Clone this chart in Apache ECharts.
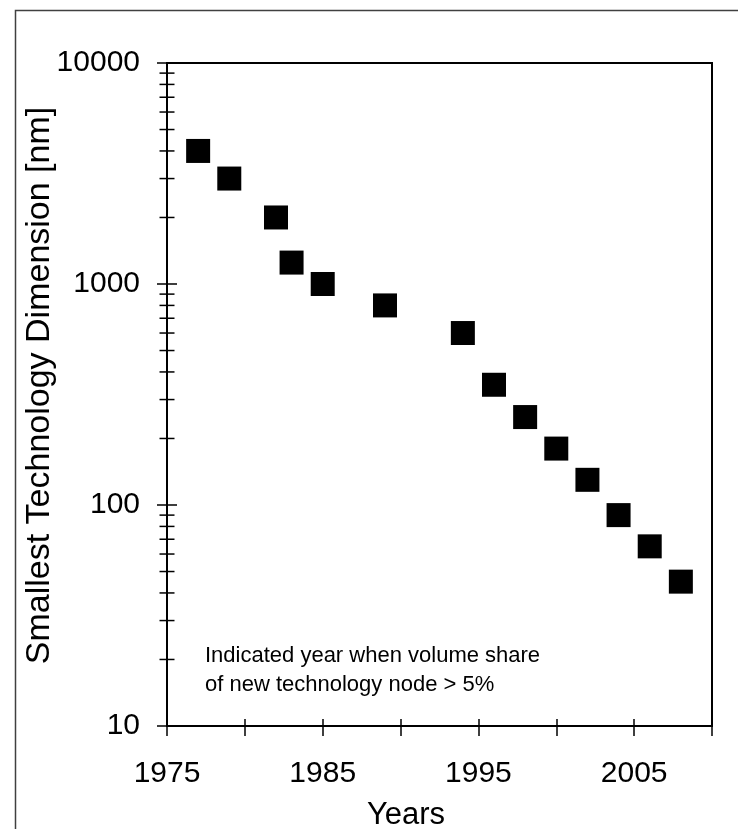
<!DOCTYPE html>
<html>
<head>
<meta charset="utf-8">
<script src="https://cdn.jsdelivr.net/npm/echarts@6/dist/echarts.min.js"></script>
<style>html,body{margin:0;padding:0;background:#fff;}#c{width:738px;height:829px;}</style>
</head>
<body>
<div id="c"></div>
<script>
// ---- data ----
var years = [1977, 1979, 1982, 1983, 1985, 1989, 1994, 1996, 1998, 2000, 2002, 2004, 2006, 2008];
var dimensionNm = [4000, 3000, 2000, 1250, 1000, 800, 600, 350, 250, 180, 130, 90, 65, 45];
var yTickLabels = ['10', '100', '1000', '10000'];
var xTickLabels = ['1975', '1985', '1995', '2005'];
var minorTickValues = [20,30,40,50,60,70,80,90,200,300,400,500,600,700,800,900,2000,3000,4000,5000,6000,7000,8000,9000];

var FONT = "'Liberation Sans', Arial, sans-serif";
var points = years.map(function (y, i) { return [y, dimensionNm[i]]; });
var minorTicks = minorTickValues.map(function (v) { return [1975, v]; });

var chart = echarts.init(document.getElementById('c'));
chart.setOption({
  animation: false,
  backgroundColor: '#fff',
  grid: { left: 167, top: 63, right: 26, bottom: 103, show: true, borderColor: '#000', borderWidth: 2, backgroundColor: 'transparent', outerBoundsMode: 'none', containLabel: false },
  xAxis: [{
    type: 'value', min: 1975, max: 2010, interval: 5, position: 'bottom',
    axisLine: { show: true, lineStyle: { color: '#000', width: 2 } },
    axisTick: { show: true, inside: true, length: 7, lineStyle: { color: '#000', width: 1.5 } },
    axisLabel: {
      margin: 33, color: '#000', fontSize: 30, fontFamily: FONT,
      formatter: function (v) { return xTickLabels.indexOf(String(v)) >= 0 ? String(v) : ''; }
    },
    splitLine: { show: false },
    name: 'Years', nameLocation: 'middle', nameGap: 74,
    nameTextStyle: { color: '#000', fontSize: 31, fontFamily: FONT, padding: [0, 67, 0, 0] }
  }, {
    type: 'value', min: 1975, max: 2010, interval: 5, position: 'bottom',
    axisLine: { show: false },
    axisTick: { show: true, inside: false, length: 10, lineStyle: { color: '#000', width: 1.5 } },
    axisLabel: { show: false }, splitLine: { show: false }
  }],
  yAxis: [{
    type: 'log', logBase: 10, min: 10, max: 10000, position: 'left',
    axisLine: { show: true, lineStyle: { color: '#000', width: 2 } },
    axisTick: { show: true, inside: true, length: 10, lineStyle: { color: '#000', width: 1.5 } },
    axisLabel: {
      margin: 27, color: '#000', fontSize: 30, fontFamily: FONT,
      formatter: function (v) { var s = String(Math.round(v)); return yTickLabels.indexOf(s) >= 0 ? s : ''; }
    },
    splitLine: { show: false },
    name: 'Smallest Technology Dimension [nm]', nameLocation: 'middle', nameGap: 110, nameRotate: 90,
    nameMoveOverlap: false,
    nameTextStyle: { color: '#000', fontSize: 34, fontFamily: FONT, padding: [0, 0, 0, 18] }
  }, {
    type: 'log', logBase: 10, min: 10, max: 10000, position: 'left',
    axisLine: { show: false },
    axisTick: { show: true, inside: false, length: 10, lineStyle: { color: '#000', width: 1.5 } },
    axisLabel: { show: false }, splitLine: { show: false }
  }],
  series: [{
    name: 'minor ticks', type: 'scatter', xAxisIndex: 0, yAxisIndex: 0,
    data: minorTicks, symbol: 'rect', symbolSize: [15, 1.5], clip: false, silent: true,
    itemStyle: { color: '#000', opacity: 1 }, z: 3
  }, {
    name: 'nodes', type: 'scatter', xAxisIndex: 0, yAxisIndex: 0,
    data: points, symbol: 'rect', symbolSize: 24,
    itemStyle: { color: '#000', opacity: 1 }, z: 4
  }],
  graphic: [{
    type: 'rect', left: 13, top: 8, z: -1, silent: true,
    shape: { width: 760, height: 850 },
    style: { fill: 'none', stroke: '#404040', lineWidth: 1.5 }
  }, {
    type: 'text', left: 205, top: 641, silent: true,
    style: {
      text: 'Indicated year when volume share\nof new technology node > 5%',
      fill: '#000', font: "22px 'Liberation Sans', Arial, sans-serif", lineHeight: 29
    }
  }]
});
</script>
</body>
</html>
